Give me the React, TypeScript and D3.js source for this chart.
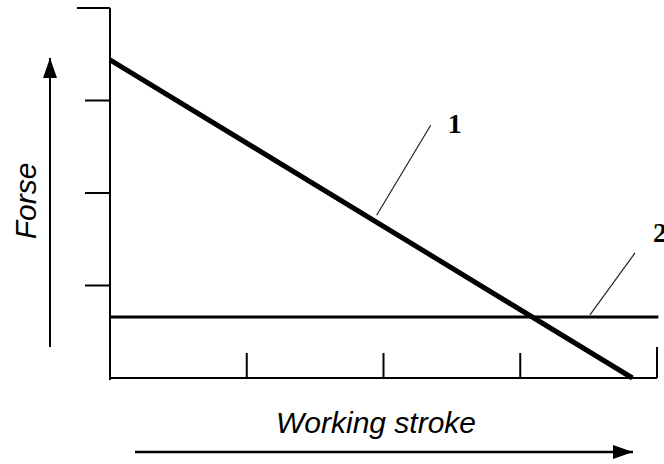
import React from "react";
import { scaleLinear, line } from "d3";

// stroke positions (x) and force levels (y), in grid units
const xTicks = [1, 2, 3, 4];
const yTicks = [1, 2, 3, 4];
const series1 = [
  { x: 0, y: 3.44 },
  { x: 3.82, y: 0 },
];
const series2 = [
  { x: 0, y: 0.66 },
  { x: 4.01, y: 0.66 },
];
const seriesLabels = ["1", "2"];

const W = 664;
const H = 464;

export default function App() {
  const x = scaleLinear().domain([0, 4]).range([110, 657]);
  const y = scaleLinear().domain([0, 4]).range([378, 8]);
  const path = line<{ x: number; y: number }>()
    .x((d) => x(d.x))
    .y((d) => y(d.y));

  // leader lines: anchor point on the curve, label point offset
  const lead1 = { x: 1.95, y: 3.44 * (1 - 1.95 / 3.82) };
  const lead2 = { x: 3.51, y: 0.66 };

  return (
    <svg
      width={W}
      height={H}
      style={{ position: "absolute", left: 0, top: 0, background: "#fff" }}
    >
      <defs>
        <marker id="ah" viewBox="0 0 20 14" refX="20" refY="7" markerWidth="20" markerHeight="14" markerUnits="userSpaceOnUse" orient="auto">
          <path d="M0,0 L20,7 L0,14 Z" fill="#000" />
        </marker>
      </defs>

      {/* axes */}
      <line x1={x(0)} x2={x(0)} y1={y(4)} y2={y(0) + 2} stroke="#000" strokeWidth={2} />
      <line x1={x(0)} x2={x(4)} y1={y(0)} y2={y(0)} stroke="#000" strokeWidth={2} />
      {yTicks.map((t) => (
        <line key={"y" + t} x1={t === 4 ? x(0) - 33 : x(0) - 25} x2={x(0)} y1={y(t)} y2={y(t)} stroke="#000" strokeWidth={2} />
      ))}
      {xTicks.map((t) => (
        <line key={"x" + t} x1={x(t)} x2={x(t)} y1={y(0)} y2={t === 4 ? y(0) - 31 : y(0) - 25} stroke="#000" strokeWidth={2} />
      ))}

      {/* curves */}
      <path d={path(series2) || ""} fill="none" stroke="#000" strokeWidth={3} />
      <path d={path(series1) || ""} fill="none" stroke="#000" strokeWidth={5} />

      {/* leaders + labels */}
      <line x1={x(lead1.x)} y1={y(lead1.y) - 7} x2={x(lead1.x) + 54} y2={y(lead1.y) - 97} stroke="#222" strokeWidth={1.2} />
      <text x={x(lead1.x) + 71} y={y(lead1.y) - 89} fontFamily="Liberation Serif" fontWeight="bold" fontSize={28}>
        {seriesLabels[0]}
      </text>
      <line x1={x(lead2.x)} y1={y(lead2.y) - 2} x2={x(lead2.x) + 45} y2={y(lead2.y) - 64} stroke="#222" strokeWidth={1.2} />
      <text x={x(lead2.x) + 63} y={y(lead2.y) - 75} fontFamily="Liberation Serif" fontWeight="bold" fontSize={28}>
        {seriesLabels[1]}
      </text>

      {/* axis titles with arrows */}
      <line x1={50} x2={50} y1={347} y2={58} stroke="#000" strokeWidth={2} markerEnd="url(#ah)" />
      <text
        transform="translate(36,201) rotate(-90)"
        textAnchor="middle"
        fontFamily="Liberation Sans"
        fontStyle="italic"
        fontSize={30}
      >
        Forse
      </text>
      <line x1={135} x2={633} y1={452} y2={452} stroke="#000" strokeWidth={2.5} markerEnd="url(#ah)" />
      <text x={276} y={433} fontFamily="Liberation Sans" fontStyle="italic" fontSize={30}>
        Working stroke
      </text>
    </svg>
  );
}
